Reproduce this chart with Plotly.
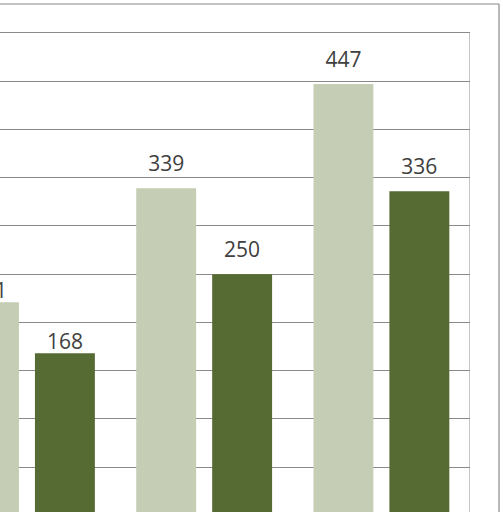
import plotly.graph_objects as go

# three visible groups (the chart is cropped on the left)
groups = [0, 1, 2]
light_values = [221, 339, 447]
dark_values = [168, 250, 336]

LIGHT = "#c5cdb5"
DARK = "#566b33"
GRID = "#8a8a8a"
TEXT = "#404040"

fig = go.Figure()
fig.add_trace(go.Bar(x=groups, y=light_values, marker=dict(color=LIGHT, line=dict(width=0)), name="light"))
fig.add_trace(go.Bar(x=groups, y=dark_values, marker=dict(color=DARK, line=dict(width=0)), name="dark"))

# value labels above the bars (first group's labels sit closer to the bars)
slot = (1 - 0.143) / 2
pad = [9.7 if g == 0 else 23 for g in groups]
for vals, dx in ((light_values, -slot / 2), (dark_values, slot / 2)):
    fig.add_trace(go.Scatter(
        x=[g + dx for g in groups],
        y=[v + p for v, p in zip(vals, pad)],
        text=[str(v) for v in vals],
        mode="text", textposition="middle center", cliponaxis=True,
        textfont=dict(family="Open Sans", size=21, color=TEXT),
        hoverinfo="skip",
    ))

# right edge of the plot area
fig.add_shape(type="line", xref="x", yref="y", x0=2.5, x1=2.5, y0=0, y1=500,
              line=dict(color=GRID, width=1))

# outer frame of the chart (top and right sides are visible)
fig.add_shape(type="line", xref="paper", yref="paper",
              x0=-0.1, x1=499 / 470, y0=1 + 24 / 484, y1=1 + 24 / 484,
              line=dict(color=GRID, width=1.2))
fig.add_shape(type="line", xref="paper", yref="paper",
              x0=499 / 470, x1=499 / 470, y0=-0.1, y1=1 + 24 / 484,
              line=dict(color=GRID, width=1.2))

fig.update_layout(
    barmode="group",
    bargap=0.143,
    bargroupgap=0.211,
    showlegend=False,
    plot_bgcolor="white",
    paper_bgcolor="white",
    width=503,
    height=512,
    margin=dict(l=0, r=33, t=28, b=0, pad=0),
    xaxis=dict(range=[-0.152, 2.5], showticklabels=False, showgrid=False,
               zeroline=False, ticks=""),
    yaxis=dict(range=[3.6, 505.0], dtick=50, showgrid=True, gridcolor=GRID,
               gridwidth=1, showticklabels=False, zeroline=False, ticks=""),
)

fig.write_html("out.html", config={"displayModeBar": False},
               post_script="document.body.style.margin='0px';")
